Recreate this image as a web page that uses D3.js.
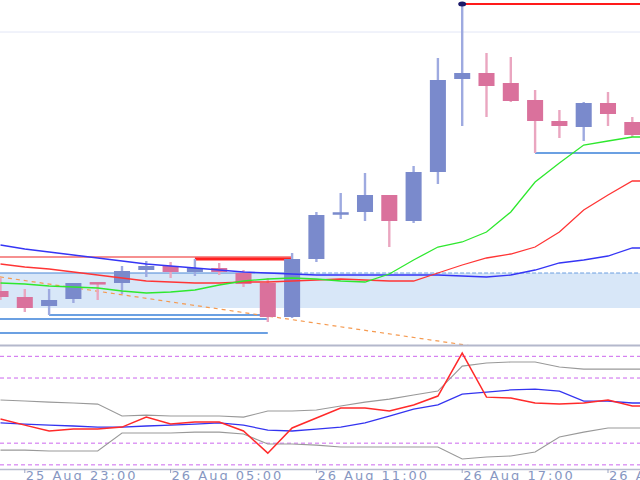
<!DOCTYPE html>
<html><head><meta charset="utf-8">
<script src="https://cdn.jsdelivr.net/npm/d3@7/dist/d3.min.js"></script>
<style>html,body{margin:0;padding:0;background:#fff;overflow:hidden}</style>
</head><body>
<svg id="c" width="640" height="480"></svg>
<script>
const times = ["25 Aug 22:00","25 Aug 23:00","26 Aug 00:00","26 Aug 01:00","26 Aug 02:00","26 Aug 03:00","26 Aug 04:00","26 Aug 05:00","26 Aug 06:00","26 Aug 07:00","26 Aug 08:00","26 Aug 09:00","26 Aug 10:00","26 Aug 11:00","26 Aug 12:00","26 Aug 13:00","26 Aug 14:00","26 Aug 15:00","26 Aug 16:00","26 Aug 17:00","26 Aug 18:00","26 Aug 19:00","26 Aug 20:00","26 Aug 21:00","26 Aug 22:00","26 Aug 23:00","27 Aug 00:00"];
const tickLabels = ["25 Aug 23:00","26 Aug 05:00","26 Aug 11:00","26 Aug 17:00","26 Aug 23:00"];

const open  = [111.1,110.5,109.6,110.3,111.9,111.9,113.2,113.6,113.0,113.4,112.9,111.9,108.5,114.3,118.8,119.0,120.7,118.1,123.0,132.3,132.9,131.9,130.2,128.1,127.5,129.9,128.0];
const high  = [112.4,111.3,111.3,111.9,111.9,113.6,114.1,114.0,114.3,113.9,113.2,112.4,114.9,119.0,120.9,122.9,120.7,123.6,134.4,139.8,134.9,134.5,131.2,129.2,130.0,131.0,128.5];
const low   = [110.2,109.0,108.7,109.9,110.2,110.8,112.5,112.4,112.6,112.7,111.5,108.0,108.4,114.0,118.3,118.1,115.5,117.9,121.8,127.6,128.5,130.0,124.9,126.4,126.1,127.6,126.5];
const close = [110.5,109.4,110.2,111.9,111.84,113.1,113.6,113.0,113.4,113.0,111.8,108.5,114.3,118.7,118.9,120.7,118.1,123.0,132.2,132.9,131.6,130.1,128.1,127.6,129.9,128.8,126.7];

const maFast = [111.9,111.8,111.6,111.5,111.4,111.1,110.9,111.0,111.2,111.7,112.1,112.3,112.4,112.3,112.1,112.0,112.8,114.2,115.5,116.0,117.0,119.0,122.0,123.9,125.7,126.1,126.5];
const maMid  = [113.8,113.5,113.3,113.0,112.7,112.4,112.1,112.0,111.9,111.9,112.0,112.0,112.1,112.2,112.3,112.2,112.1,112.1,112.9,113.7,114.4,114.8,115.5,117.0,119.2,120.7,122.1];
const maSlow = [115.7,115.3,115.0,114.7,114.4,114.1,113.8,113.6,113.4,113.2,113.0,112.9,112.8,112.7,112.7,112.7,112.7,112.7,112.7,112.6,112.5,112.7,113.2,113.9,114.2,114.6,115.4];

const oscMain  = [41.1,38.3,35.6,36.5,36.5,37.4,42.0,38.8,39.7,39.7,35.6,25.4,37.0,41.6,46.2,46.2,44.8,47.6,51.7,71.5,51.2,50.8,48.5,48.0,48.5,49.9,47.1];
const oscSig   = [39.3,38.8,38.3,37.9,37.4,37.4,37.9,38.3,38.8,39.3,38.3,36.0,35.6,36.5,37.4,39.3,42.5,45.7,47.6,52.6,53.5,54.5,54.9,54.0,49.4,49.4,48.5];
const oscUpper = [49.9,49.4,48.9,48.5,48.0,42.5,42.9,42.5,42.5,42.5,42.0,44.8,44.8,45.3,47.1,48.9,50.3,52.2,54.0,65.5,66.9,67.4,67.4,65.1,64.1,64.1,64.1];
const oscLower = [26.8,26.8,26.4,26.4,26.4,34.7,34.7,34.7,35.1,35.1,34.2,29.6,29.6,29.1,28.2,28.2,28.2,28.2,28.2,22.7,23.6,24.1,25.9,32.8,35.1,37.0,37.0];
const oscLevels = [70, 60, 30, 20];

const gridLevel = 137.0;
const zoneTop = 112.9, zoneBottom = 109.4;
const trendStart = 112.5, trendEnd = 106.1;   // at times[0] and times[18]

const W = 640, H = 480, mainBottom = 345;
const svg = d3.select("#c");

const x = d3.scaleBand().domain(times).range([-11.65, 644.45]).paddingInner(0.34).paddingOuter(0.17);
const cx = t => x(t) + x.bandwidth() / 2;
const y = d3.scaleLinear().domain([140.2, 105.7]).range([0, mainBottom]);
const yo = d3.scaleLinear().domain([18.1, 74.75]).range([469, 346]);

svg.append("defs").append("clipPath").attr("id", "mainClip")
  .append("rect").attr("x", 0).attr("y", 0).attr("width", W).attr("height", mainBottom);
const main = svg.append("g").attr("clip-path", "url(#mainClip)");

// grid line
main.append("line").attr("x1", 0).attr("x2", W).attr("y1", y(gridLevel)).attr("y2", y(gridLevel))
  .attr("stroke", "#e2e6f6").attr("stroke-width", 1);

// zone
main.append("rect").attr("x", 0).attr("width", W).attr("y", y(zoneTop)).attr("height", y(zoneBottom) - y(zoneTop))
  .attr("fill", "#d8e7f8");
main.append("line").attr("x1", 0).attr("x2", cx(times[12])).attr("y1", y(zoneTop)).attr("y2", y(zoneTop))
  .attr("stroke", "#4a88d6").attr("stroke-width", 1.2);
main.append("line").attr("x1", cx(times[12])).attr("x2", W).attr("y1", y(zoneTop)).attr("y2", y(zoneTop))
  .attr("stroke", "#6a9ee0").attr("stroke-width", 1).attr("stroke-dasharray", "4,2");

// horizontal levels
const hl = (x1, x2, p, color, w, dash) => {
  const l = main.append("line").attr("x1", x1).attr("x2", x2).attr("y1", y(p)).attr("y2", y(p))
    .attr("stroke", color).attr("stroke-width", w);
  if (dash) l.attr("stroke-dasharray", dash);
};
hl(0, cx(times[12]), 114.5, "#ee2222", 1.2);
hl(cx(times[8]), cx(times[12]), high[8], "#ff2020", 3);
hl(cx(times[2]), cx(times[11]), low[2], "#3a80d8", 1.3);
hl(0, cx(times[11]), 108.3, "#3a80d8", 1.3);
hl(0, cx(times[11]), 106.9, "#3a80d8", 1.3);
hl(cx(times[22]), W, low[22], "#3a80d8", 1.3);
hl(cx(times[19]), W, high[19], "#ff1a1a", 2);

// trend dashed
const slope = (y(trendEnd) - y(trendStart)) / (cx(times[18]) - cx(times[0]));
main.append("line")
  .attr("x1", 0).attr("y1", y(trendStart) - slope * cx(times[0]))
  .attr("x2", 470).attr("y2", y(trendStart) + slope * (470 - cx(times[0])))
  .attr("stroke", "#f59a50").attr("stroke-width", 1.2).attr("stroke-dasharray", "4,4");

// candles
const blueBody = "#7a8acc", blueWick = "#9eaae0", pinkBody = "#da719c", pinkWick = "#eaa6c0";
const cg = main.append("g");
times.forEach((t, i) => {
  const up = close[i] >= open[i];
  const c = cx(t);
  cg.append("line").attr("x1", c).attr("x2", c).attr("y1", y(high[i])).attr("y2", y(low[i]))
    .attr("stroke", up ? blueWick : pinkWick).attr("stroke-width", 2.4);
  const top = y(Math.max(open[i], close[i])), bot = y(Math.min(open[i], close[i]));
  const h = Math.max(bot - top, 2.5);
  cg.append("rect").attr("x", x(t)).attr("width", x.bandwidth())
    .attr("y", (top + bot) / 2 - h / 2).attr("height", h)
    .attr("fill", up ? blueBody : pinkBody);
});

// marker at top high
main.append("ellipse").attr("cx", cx(times[19])).attr("cy", y(high[19]))
  .attr("rx", 4).attr("ry", 2.5).attr("fill", "#1c1a6a");

// helper: extend a series to the right edge with its last value
const pts = (arr, sc) => {
  const p = arr.map((d, i) => [cx(times[i]), sc(d)]);
  p.push([W, sc(arr[arr.length - 1])]);
  return p;
};

// moving averages
[[maSlow, "#3535f5"], [maMid, "#ff3535"], [maFast, "#2ee82e"]].forEach(([arr, col]) => {
  main.append("path").attr("d", d3.line()(pts(arr, y))).attr("fill", "none").attr("stroke", col).attr("stroke-width", 1.3);
});

// separator
svg.append("line").attr("x1", 0).attr("x2", W).attr("y1", 345.5).attr("y2", 345.5)
  .attr("stroke", "#b4b8cc").attr("stroke-width", 1.8);

// oscillator
const osc = svg.append("g");
oscLevels.forEach(v => {
  osc.append("line").attr("x1", 0).attr("x2", W).attr("y1", yo(v)).attr("y2", yo(v))
    .attr("stroke", "#cc66ee").attr("stroke-width", 1).attr("stroke-dasharray", "4,3");
});
[[oscUpper, "#999999", 1.1], [oscLower, "#999999", 1.1], [oscSig, "#3434f0", 1.3], [oscMain, "#ff2a2a", 1.5]].forEach(([arr, col, w]) => {
  osc.append("path").attr("d", d3.line()(pts(arr, yo))).attr("fill", "none").attr("stroke", col).attr("stroke-width", w);
});

// time axis
const axis = d3.axisBottom(x).tickValues(times.filter(t => tickLabels.includes(t))).tickSize(4).tickSizeOuter(0);
const ag = svg.append("g").attr("transform", "translate(0,469)").call(axis);
ag.select(".domain").attr("stroke", "#b8bccf").attr("stroke-width", 1.6).attr("d", "M0,0.5H640");
ag.selectAll(".tick line").attr("stroke", "#9aa3c0");
ag.selectAll(".tick text").attr("text-anchor", "start").attr("x", 1).attr("y", 11).attr("dy", 0)
  .attr("fill", "#8797c2").style("font-family", "'DejaVu Sans', sans-serif")
  .style("font-size", "13px").style("letter-spacing", "2px");
</script>
</body></html>
